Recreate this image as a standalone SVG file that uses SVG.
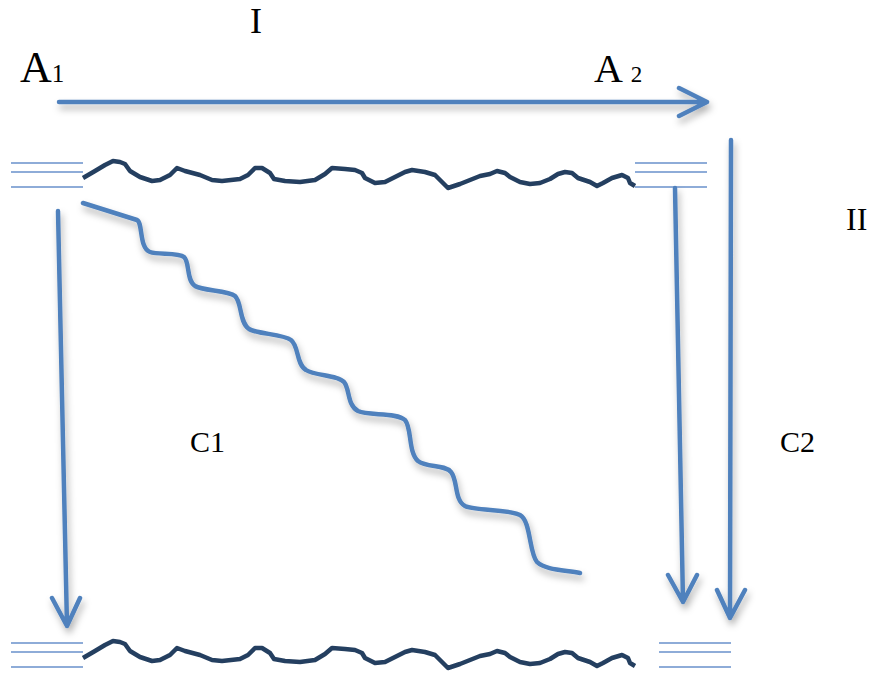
<svg xmlns="http://www.w3.org/2000/svg" width="869" height="674" viewBox="0 0 869 674">
<style>
.arrow{fill:none;stroke:#4f81bd;stroke-width:4.5;stroke-linecap:round;stroke-linejoin:round}
.wave{fill:none;stroke:#243f60;stroke-width:4.5;stroke-linecap:butt;stroke-linejoin:round}
.tri{stroke:#8eacd8;stroke-width:1.8}
.big{font-family:"Liberation Serif","Times New Roman",serif;fill:#000}
</style>
<defs>
<filter id="sh" x="-20%" y="-20%" width="140%" height="140%">
<feDropShadow dx="2" dy="5" stdDeviation="3.5" flood-color="#000" flood-opacity="0.3"/>
</filter>
<polyline id="wavepath" class="wave" points="83,178 95,171 105,165 113,161 120,162 125,164 130,171 140,177 152,181 160,180 170,175 177,168 185,171 200,175 212,180 222,181 240,179 248,175 255,168 262,168 270,173 274,179 285,181 300,182 315,180 325,174 332,168 345,169 355,170 362,173 365,178 375,183 385,182 395,177 405,172 412,170 425,172 435,175 440,180 448,188 460,184 470,180 480,176 490,174 497,171 505,173 510,177 520,182 530,184 540,183 550,179 558,174 565,172 572,173 578,178 590,182 597,186 603,183 612,178 622,175 628,178 630,183 635,186"/>
<g id="trilines">
<line class="tri" x1="0" y1="0" x2="72" y2="0"/>
<line class="tri" x1="0" y1="9" x2="72" y2="9"/>
<line class="tri" x1="0" y1="24" x2="72" y2="24"/>
</g>
</defs>

<g id="labels">
<text class="big" x="250" y="33" font-size="36">I</text>
<text class="big" x="20" y="82" font-size="44">A<tspan font-size="25">1</tspan></text>
<text class="big" x="594" y="82" font-size="40">A <tspan font-size="23">2</tspan></text>
<text class="big" x="846" y="230" font-size="32">II</text>
<text class="big" x="190" y="452" font-size="30">C1</text>
<text class="big" x="780" y="452" font-size="30">C2</text>
</g>

<g id="top-left-lines"><use href="#trilines" x="11" y="163"/></g>
<g id="top-right-lines"><use href="#trilines" x="635" y="163"/></g>
<g id="bottom-left-lines"><use href="#trilines" x="11" y="643"/></g>
<g id="bottom-right-lines"><use href="#trilines" x="659" y="643"/></g>

<g id="top-wave"><use href="#wavepath"/></g>
<g id="bottom-wave"><use href="#wavepath" y="480"/></g>

<g id="connectors" filter="url(#sh)">
<path class="arrow" d="M59,102 L707,102 M679,88 L707,102 L679,116"/>
<path class="arrow" d="M58,211 L67,626 M52,598 L67,626 L80,598"/>
<path class="arrow" d="M675,188 L683,602 M668,575 L683,602 L697,575"/>
<path class="arrow" d="M731,140 L730,618 M717,590 L730,618 L745,590"/>
<path class="arrow" d="M83,203 L137,220 C143,223 139,248 150,252 C158,255 178,252 184,257 C190,262 186,280 195,286 C203,291 228,290 235,296 C242,302 239,322 249,329 C257,334 283,334 291,340 C299,346 296,364 306,370 C315,376 338,375 344,382 C350,389 347,405 358,411 C368,416 397,412 405,420 C412,428 408,452 418,461 C427,468 444,464 451,472 C458,480 454,500 465,506 C475,511 508,509 520,515 C531,521 529,553 537,562 C545,570 565,570 580,573"/>
</g>
</svg>
